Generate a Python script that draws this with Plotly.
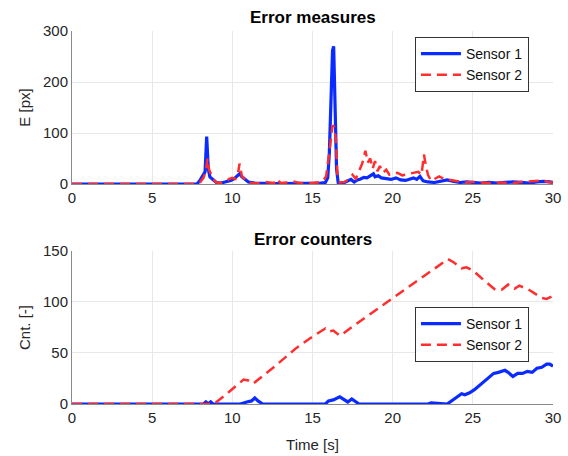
import plotly.graph_objects as go

# ---- data: top panel (error measures) ----
t_e1 = [0, 7.8, 8.0, 8.2, 8.3, 8.4, 8.5, 8.6, 8.8, 9.0, 9.3, 9.6, 9.9, 10.1, 10.3, 10.45, 10.6, 10.8, 11.0, 11.4,
        12.0, 12.5, 13.0, 13.5, 14.0, 14.5, 15.0, 15.5, 15.8, 15.95, 16.05, 16.15, 16.25, 16.32, 16.4, 16.5, 16.6, 16.8, 17.0, 17.2,
        17.4, 17.6, 17.8, 18.0, 18.2, 18.4, 18.6, 18.8, 18.9, 19.1, 19.3, 19.6, 19.9, 20.2, 20.5, 20.8, 21.1, 21.3, 21.5, 21.7,
        21.9, 22.2, 22.6, 23.0, 23.4, 23.8, 24.2, 24.6, 25.0, 25.5, 26.0, 26.5, 27.0, 27.5, 28.0, 28.5, 29.0, 29.4, 29.8, 30.0]
e1 = [0, 0, 8, 18, 24, 93, 30, 14, 9, 3, 2, 4, 7, 10, 15, 20, 14, 8, 4, 2,
      1, 1, 1, 1, 2, 1, 1, 2, 3, 12, 60, 180, 262, 270, 160, 30, 3, 2, 3, 6,
      9, 4, 8, 10, 13, 12, 16, 20, 14, 16, 12, 10, 9, 12, 8, 7, 10, 12, 9, 15,
      6, 4, 3, 6, 8, 5, 3, 4, 3, 2, 3, 2, 3, 4, 3, 2, 4, 5, 4, 3]

t_e2 = [0, 7.8, 8.0, 8.2, 8.35, 8.45, 8.55, 8.65, 8.8, 9.0, 9.3, 9.6, 9.8, 10.0, 10.2, 10.35, 10.45, 10.6, 10.8, 11.0,
        11.5, 12.0, 12.3, 12.6, 12.8, 13.0, 13.5, 13.8, 14.2, 15.0, 15.6, 15.85, 16.0, 16.15, 16.25, 16.35, 16.45, 16.55, 16.7, 17.0,
        17.3, 17.5, 17.7, 17.9, 18.1, 18.3, 18.45, 18.6, 18.75, 18.9, 19.05, 19.2, 19.4, 19.6, 19.8, 20.0, 20.3, 20.6, 21.0, 21.3,
        21.6, 21.8, 21.95, 22.05, 22.2, 22.4, 22.6, 22.9, 23.2, 23.6, 24.0, 24.5, 25.0, 25.5, 26.0, 26.5, 27.0, 27.5, 28.0, 28.5,
        29.0, 29.3, 29.7, 30.0]
e2 = [0, 0, 4, 12, 25, 50, 28, 20, 10, 3, 2, 5, 10, 12, 10, 20, 40, 15, 8, 3,
      1, 4, 3, 2, 10, 2, 3, 5, 2, 2, 4, 15, 50, 95, 115, 112, 90, 20, 3, 4,
      10, 18, 10, 25, 40, 65, 42, 50, 30, 45, 25, 35, 22, 28, 18, 20, 22, 17, 20, 22,
      24, 18, 58, 40, 18, 6, 10, 15, 10, 8, 5, 3, 4, 3, 2, 3, 3, 2, 4, 5,
      6, 7, 4, 3]

# ---- data: bottom panel (error counters) ----
t_c1 = [0, 8.2, 8.35, 8.5, 8.65, 8.8, 9.0, 10.5, 10.9, 11.2, 11.4, 11.6, 11.9, 15.8, 16.0, 16.3, 16.7, 17.0, 17.2, 17.45,
        17.7, 17.9, 22.2, 22.4, 23.4, 23.9, 24.3, 24.5, 24.8, 25.1, 26.3, 26.6, 27.0, 27.2, 27.5, 27.8, 28.1, 28.4, 28.7, 29.0,
        29.3, 29.6, 29.8, 30.0]
c1 = [0, 0, 2, 0, 2, 0, 0, 0, 2, 3, 6, 3, 0, 0, 3, 4, 7, 4, 2, 5,
      2, 0, 0, 1, 0, 6, 10, 9, 11, 14, 30, 31, 33, 31, 27, 30, 30, 32, 31, 35,
      36, 39, 39, 37]

t_c2 = [0, 8.85, 9.5, 10.2, 10.7, 11.0, 11.3, 12.5, 14.0, 15.0, 15.8, 16.0, 16.3, 16.7, 17.0, 17.5, 18.5, 20.0, 21.5, 23.0,
        23.45, 23.8, 24.3, 24.6, 25.0, 25.5, 26.0, 26.4, 26.8, 27.2, 27.6, 27.9, 28.2, 28.5, 28.9, 29.3, 29.6, 30.0]
c2 = [0, 0, 8, 17, 24, 23, 20, 35, 55, 66, 74, 71, 72, 67, 70, 76, 87, 104, 120, 137,
      142, 139, 133, 134, 131, 124, 117, 112, 112, 117, 113, 116, 114, 112, 108, 104, 103, 106]

series_names = ["Sensor 1", "Sensor 2"]
titles = ["Error measures", "Error counters"]
x_ticks = [0, 5, 10, 15, 20, 25, 30]
y1_ticks = [0, 100, 200, 300]
y2_ticks = [0, 50, 100, 150]

BLUE = "#0a2bff"
RED = "#ff2e2e"
FONT = "Liberation Sans, Arial, Helvetica, sans-serif"
TXT = "#262626"

fig = go.Figure()
fig.add_trace(go.Scatter(x=t_e1, y=e1, mode="lines", name=series_names[0],
                         line=dict(color=BLUE, width=3.2), xaxis="x", yaxis="y", legend="legend"))
fig.add_trace(go.Scatter(x=t_e2, y=e2, mode="lines", name=series_names[1],
                         line=dict(color=RED, width=2.5, dash="10px,6px"), xaxis="x", yaxis="y", legend="legend"))
fig.add_trace(go.Scatter(x=t_c1, y=c1, mode="lines", name=series_names[0],
                         line=dict(color=BLUE, width=3.2), xaxis="x2", yaxis="y2", legend="legend2"))
fig.add_trace(go.Scatter(x=t_c2, y=c2, mode="lines", name=series_names[1],
                         line=dict(color=RED, width=2.5, dash="10px,6px"), xaxis="x2", yaxis="y2", legend="legend2"))

axis_common = dict(showline=True, linecolor="#8a8a8a", linewidth=1, showgrid=True, gridcolor="#e8e8e8",
                   zeroline=False, ticks="", tickfont=dict(family=FONT, size=15, color=TXT), mirror=False,
                   automargin=False)

legend_common = dict(bgcolor="white", bordercolor="#333333", borderwidth=1,
                     font=dict(family=FONT, size=14, color="#111111"), xanchor="right", yanchor="top",
                     tracegroupgap=0, itemwidth=40)

fig.update_layout(
    width=568, height=456,
    margin=dict(l=72, r=15, t=31, b=52),
    paper_bgcolor="white", plot_bgcolor="white",
    font=dict(family=FONT, size=15, color=TXT),
    xaxis=dict(axis_common, domain=[0, 1], range=[0, 30], tickvals=x_ticks, anchor="y"),
    yaxis=dict(axis_common, domain=[0.5898, 1], range=[0, 300], tickvals=y1_ticks, anchor="x",
               title=dict(text="E [px]", font=dict(family=FONT, size=15, color=TXT), standoff=8)),
    xaxis2=dict(axis_common, domain=[0, 1], range=[0, 30], tickvals=x_ticks, anchor="y2",
                title=dict(text="Time [s]", font=dict(family=FONT, size=15, color=TXT), standoff=14)),
    yaxis2=dict(axis_common, domain=[0, 0.4102], range=[0, 150], tickvals=y2_ticks, anchor="x2",
                title=dict(text="Cnt. [-]", font=dict(family=FONT, size=15, color=TXT), standoff=8)),
    legend=dict(legend_common, x=0.95, y=0.984),
    legend2=dict(legend_common, x=0.95, y=0.260),
    annotations=[
        dict(text="<b>" + titles[0] + "</b>", x=0.5, y=1.035, xref="paper", yref="paper",
             showarrow=False, font=dict(family=FONT, size=17, color="#000000"), yanchor="middle"),
        dict(text="<b>" + titles[1] + "</b>", x=0.5, y=0.442, xref="paper", yref="paper",
             showarrow=False, font=dict(family=FONT, size=17, color="#000000"), yanchor="middle"),
    ],
    showlegend=True,
)

fig.write_html("out.html")
